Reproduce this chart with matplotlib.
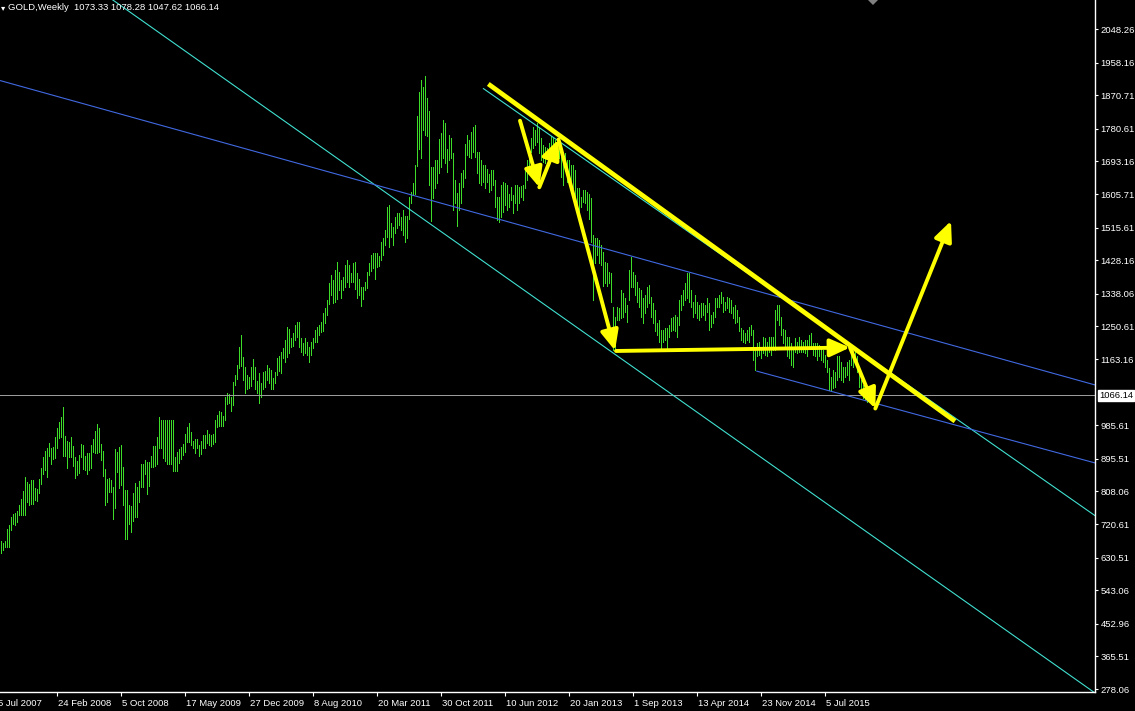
import matplotlib
matplotlib.use("Agg")
import matplotlib.pyplot as plt
import matplotlib.transforms as mtransforms
from matplotlib.patches import Polygon
import numpy as np

# ---------------- data ----------------
first_week = 4  # index of first visible weekly bar

high_2007 = [675, 671, 675, 707, 718, 740, 748, 750, 756, 772, 788, 809, 847, 833, 828, 839, 839, 817, 815, 841, 871]
low_2007 = [642, 651, 660, 660, 660, 705, 721, 718, 727, 745, 745, 745, 745, 780, 772, 774, 774, 785, 782, 804, 828]

high_2008 = [900, 917, 925, 938, 925, 927, 954, 978, 994, 1008, 1035, 957, 943, 941, 954, 930, 900, 890, 906, 935,
             933, 903, 911, 911, 933, 949, 970, 989, 978, 935, 917, 868, 841, 844, 839, 820, 922, 914, 927, 933,
             874, 812, 812, 772, 769, 804, 831, 820, 836, 882, 882, 892]
low_2008 = [855, 866, 847, 903, 882, 895, 898, 925, 951, 954, 903, 903, 871, 901, 901, 876, 844, 852, 858, 900,
            868, 866, 855, 866, 871, 914, 911, 911, 914, 892, 850, 772, 780, 807, 807, 734, 764, 860, 817, 825,
            772, 681, 681, 721, 699, 729, 740, 740, 780, 820, 820, 855]

high_2009 = [887, 887, 903, 930, 930, 954, 1008, 1000, 1000, 1000, 1000, 1000, 1000, 1000, 900, 914, 922, 927, 935, 962,
             981, 992, 968, 943, 949, 949, 933, 943, 959, 959, 973, 962, 959, 962, 1000, 1013, 1024, 1021, 1010, 1061,
             1072, 1069, 1061, 1102, 1120, 1146, 1196, 1228, 1169, 1143, 1120, 1116]
low_2009 = [801, 823, 874, 874, 876, 882, 925, 925, 898, 890, 882, 882, 882, 863, 863, 863, 884, 895, 906, 914,
            941, 941, 933, 925, 911, 925, 903, 909, 925, 925, 938, 933, 930, 935, 941, 981, 984, 984, 984, 1000,
            1043, 1045, 1024, 1040, 1094, 1110, 1138, 1144, 1107, 1073, 1084, 1086]

high_2010 = [1143, 1163, 1143, 1105, 1126, 1100, 1129, 1132, 1147, 1138, 1134, 1111, 1129, 1167, 1171, 1183, 1192, 1214, 1250, 1245,
             1219, 1232, 1254, 1263, 1263, 1219, 1205, 1219, 1210, 1196, 1210, 1219, 1241, 1250, 1254, 1263, 1286, 1299, 1321, 1366,
             1388, 1375, 1402, 1424, 1397, 1375, 1384, 1415, 1430, 1415, 1395, 1421]
low_2010 = [1091, 1109, 1084, 1071, 1044, 1062, 1084, 1089, 1107, 1098, 1084, 1082, 1098, 1120, 1132, 1125, 1167, 1156, 1169, 1178,
            1196, 1198, 1214, 1223, 1196, 1183, 1174, 1178, 1174, 1156, 1174, 1192, 1210, 1210, 1228, 1236, 1239, 1259, 1281, 1312,
            1335, 1314, 1317, 1323, 1348, 1328, 1348, 1357, 1371, 1357, 1371, 1371]

high_2011 = [1424, 1393, 1379, 1357, 1357, 1371, 1397, 1420, 1442, 1447, 1447, 1448, 1440, 1478, 1487, 1509, 1572, 1576, 1529, 1518,
             1545, 1554, 1556, 1543, 1563, 1547, 1547, 1597, 1612, 1634, 1683, 1815, 1880, 1912, 1894, 1922, 1862, 1829, 1679, 1679,
             1697, 1697, 1753, 1770, 1804, 1795, 1726, 1764, 1755, 1715, 1643, 1609]
low_2011 = [1350, 1328, 1335, 1305, 1323, 1348, 1353, 1388, 1400, 1406, 1379, 1409, 1413, 1430, 1442, 1469, 1491, 1463, 1491, 1469,
            1500, 1514, 1523, 1509, 1496, 1478, 1487, 1538, 1581, 1606, 1607, 1681, 1726, 1701, 1777, 1764, 1761, 1630, 1532, 1594,
            1621, 1634, 1661, 1679, 1701, 1688, 1666, 1697, 1701, 1563, 1581, 1520]

high_2012 = [1634, 1661, 1670, 1741, 1764, 1750, 1773, 1786, 1791, 1719, 1719, 1697, 1684, 1684, 1674, 1659, 1670, 1670, 1643, 1598,
             1598, 1630, 1639, 1634, 1630, 1607, 1625, 1603, 1630, 1630, 1625, 1627, 1630, 1674, 1697, 1710, 1755, 1786, 1777, 1795,
             1782, 1755, 1737, 1733, 1728, 1743, 1760, 1755, 1750, 1734, 1746, 1706]
low_2012 = [1563, 1581, 1625, 1648, 1710, 1704, 1701, 1719, 1704, 1661, 1634, 1630, 1639, 1621, 1639, 1612, 1616, 1630, 1572, 1536,
            1531, 1545, 1558, 1576, 1563, 1572, 1590, 1554, 1581, 1563, 1581, 1598, 1590, 1621, 1643, 1670, 1719, 1728, 1737, 1746,
            1715, 1697, 1692, 1688, 1706, 1710, 1706, 1724, 1715, 1706, 1701, 1652]

high_2013 = [1701, 1715, 1697, 1697, 1684, 1684, 1670, 1621, 1621, 1598, 1616, 1616, 1612, 1607, 1595, 1497, 1487, 1487, 1482, 1470,
             1450, 1424, 1420, 1397, 1393, 1304, 1277, 1304, 1299, 1348, 1339, 1326, 1308, 1402, 1438, 1397, 1389, 1371, 1353, 1348,
             1326, 1335, 1357, 1362, 1330, 1313, 1295, 1259, 1268, 1241, 1241, 1246]
low_2013 = [1630, 1670, 1639, 1643, 1616, 1621, 1572, 1554, 1554, 1572, 1585, 1581, 1563, 1540, 1476, 1321, 1420, 1442, 1420, 1415,
            1360, 1366, 1360, 1366, 1317, 1187, 1187, 1268, 1268, 1272, 1277, 1290, 1263, 1321, 1357, 1357, 1335, 1317, 1304, 1277,
            1259, 1286, 1304, 1313, 1277, 1259, 1237, 1228, 1210, 1187, 1210, 1214]

high_2014 = [1246, 1254, 1272, 1277, 1281, 1277, 1321, 1335, 1348, 1366, 1393, 1393, 1348, 1317, 1335, 1317, 1308, 1313, 1313, 1308,
             1326, 1313, 1281, 1290, 1326, 1326, 1335, 1344, 1330, 1317, 1330, 1326, 1321, 1304, 1308, 1295, 1277, 1246, 1241, 1232,
             1241, 1250, 1254, 1241, 1196, 1205, 1210, 1196, 1223, 1219, 1210, 1223]
low_2014 = [1187, 1223, 1237, 1241, 1237, 1223, 1254, 1295, 1308, 1321, 1326, 1317, 1304, 1277, 1286, 1272, 1268, 1277, 1281, 1268,
            1290, 1241, 1250, 1259, 1277, 1304, 1304, 1313, 1290, 1295, 1299, 1290, 1286, 1272, 1259, 1263, 1237, 1214, 1210, 1205,
            1214, 1210, 1228, 1161, 1134, 1170, 1174, 1165, 1178, 1174, 1170, 1183]

high_2015 = [1223, 1223, 1295, 1308, 1308, 1277, 1245, 1241, 1223, 1223, 1205, 1196, 1219, 1210, 1223, 1214, 1210, 1214, 1214, 1228,
             1232, 1205, 1205, 1205, 1201, 1196, 1187, 1174, 1161, 1138, 1116, 1134, 1129, 1170, 1170, 1156, 1143, 1143, 1156, 1161,
             1183, 1185, 1183, 1170, 1125, 1107, 1094, 1089, 1085, 1080, 1078.28]
low_2015 = [1174, 1187, 1187, 1268, 1255, 1228, 1205, 1196, 1170, 1165, 1147, 1143, 1183, 1178, 1183, 1183, 1183, 1178, 1170, 1196,
            1196, 1174, 1170, 1161, 1170, 1161, 1156, 1143, 1129, 1080, 1080, 1085, 1089, 1107, 1116, 1107, 1102, 1116, 1120, 1107,
            1147, 1143, 1156, 1129, 1089, 1076, 1058, 1053, 1049, 1053, 1047.62]

last_bar = [1073.33, 1078.28, 1047.62, 1066.14]  # O H L C

tick_weeks = [0, 32, 64, 96, 128, 160, 192, 224, 256, 288, 320, 352, 384, 416]
tick_labels = ["5 Jul 2007", "24 Feb 2008", "5 Oct 2008", "17 May 2009", "27 Dec 2009", "8 Aug 2010",
               "20 Mar 2011", "30 Oct 2011", "10 Jun 2012", "20 Jan 2013", "1 Sep 2013", "13 Apr 2014",
               "23 Nov 2014", "5 Jul 2015"]
price_ticks = [2048.26, 1958.16, 1870.71, 1780.61, 1693.16, 1605.71, 1515.61, 1428.16, 1338.06, 1250.61,
               1163.16, 985.61, 895.51, 808.06, 720.61, 630.51, 543.06, 452.96, 365.51, 278.06]

# trend lines: two anchor points (week index, price)
cyan_main = [(122.5, 1889.2), (213.5, 1544.8)]
cyan_upper = [(245.0, 1889.2), (303.5, 1670.1)]
blue_main = [(122.5, 1732.6), (213.5, 1596.9)]
blue_lower = [(381.65, 1131.0), (453.5, 1026.4)]
yellow_trend = [(247.65, 1900.8), (481.0, 996.4)]
yellow_arrows = [((263.5, 1802.3), (273.15, 1623.7)),
                 ((273.15, 1623.7), (282.75, 1751.9)),
                 ((282.75, 1751.9), (311.0, 1186.0)),
                 ((311.5, 1184.7), (428.5, 1194.0)),
                 ((428.5, 1194.0), (441.15, 1030.4)),
                 ((441.15, 1030.4), (479.0, 1533.3))]

# ---------------- figure ----------------
W, H = 1135, 711
plt.rcParams['font.family'] = ['Liberation Sans', 'DejaVu Sans']
fig = plt.figure(figsize=(W / 100, H / 100), dpi=100, facecolor='black')
ax = fig.add_axes([0, 19 / H, 1095 / W, 692 / H])
ax.set_facecolor('black')

XMIN, XMAX = 3.5, 551.0
YMIN, YMAX = 270.09, 2126.04
ax.set_xlim(XMIN, XMAX)
ax.set_ylim(YMIN, YMAX)

highs = np.array(high_2007 + high_2008 + high_2009 + high_2010 + high_2011 + high_2012 + high_2013 + high_2014 + high_2015)
lows = np.array(low_2007 + low_2008 + low_2009 + low_2010 + low_2011 + low_2012 + low_2013 + low_2014 + low_2015)
weeks = np.arange(first_week, first_week + len(highs))

BAR = '#3cdc28'
ax.vlines(weeks, lows, highs, color=BAR, lw=0.5, antialiased=False)

# current price line
ax.axhline(last_bar[3], color='#9a9a9a', lw=0.5, antialiased=False)


def draw_line(pts, color, lw, extend_left=True):
    (x0, y0), (x1, y1) = pts
    s = (y1 - y0) / (x1 - x0)
    xa = XMIN - 5 if extend_left else x0
    xb = XMAX + 5
    ax.plot([xa, xb], [y0 + s * (xa - x0), y0 + s * (xb - x0)], color=color, lw=lw, solid_capstyle='butt')


draw_line(cyan_main, '#40e0d0', 0.8, True)
draw_line(cyan_upper, '#40e0d0', 0.8, False)
draw_line(blue_main, '#4169e1', 0.8, True)
draw_line(blue_lower, '#4169e1', 0.8, False)

ax.plot([p[0] for p in yellow_trend], [p[1] for p in yellow_trend], color='#ffff00', lw=3.4,
        solid_capstyle='butt')
for start, end in yellow_arrows:
    ax.annotate('', xy=end, xytext=start,
                arrowprops=dict(arrowstyle='-|>,head_length=1.0,head_width=0.45', color='#ffff00',
                                lw=2.8, shrinkA=0, shrinkB=0, mutation_scale=12))

# spines
for s in ['top', 'left']:
    ax.spines[s].set_visible(False)
for s in ['right', 'bottom']:
    ax.spines[s].set_color('white')
    ax.spines[s].set_linewidth(1.0)

ax.yaxis.tick_right()
ax.set_yticks(price_ticks)
ax.set_yticklabels([f"{v:.2f}" for v in price_ticks])
ax.tick_params(axis='y', colors='white', labelcolor='white', labelsize=6.8, length=2.5, width=0.8, pad=1.5,
               direction='out')

in_range = [w for w in tick_weeks if XMIN <= w <= XMAX]
ax.set_xticks(in_range)
ax.set_xticklabels([])
ax.tick_params(axis='x', colors='white', length=3, width=0.8, direction='out')
off = mtransforms.offset_copy(ax.get_xaxis_transform(), fig=fig, x=1.5, y=-11, units='dots')
off_first = mtransforms.offset_copy(ax.get_xaxis_transform(), fig=fig, x=4.5, y=-11, units='dots')
for i, (w, lab) in enumerate(zip(tick_weeks, tick_labels)):
    ax.text(w, 0, lab, transform=off_first if i == 0 else off, color='white', fontsize=6.8,
            ha='left', va='center', clip_on=False)

# current price label
ax.annotate(f"{last_bar[3]:.2f}", xy=(1.0, last_bar[3]), xycoords=('axes fraction', 'data'),
            xytext=(4, 0), textcoords='offset pixels', ha='left', va='center', fontsize=6.8, color='black',
            bbox=dict(boxstyle='square,pad=0.12', fc='white', ec='white'))

# header
fig.text(1 / W, 1 - 8 / H, "▾", color='white', fontsize=6, va='center', ha='left', family='DejaVu Sans')
fig.text(8 / W, 1 - 8 / H, "GOLD,Weekly  " + " ".join(f"{v:.2f}" for v in last_bar), color='white',
         fontsize=6.8, va='center', ha='left')

# shift marker at top
tri = Polygon([[868 / W, 1], [878 / W, 1], [873 / W, 1 - 5 / H]], closed=True, transform=fig.transFigure,
              fc='#808080', ec='none')
fig.patches.append(tri)

fig.savefig('out.png', dpi=100, facecolor='black')
